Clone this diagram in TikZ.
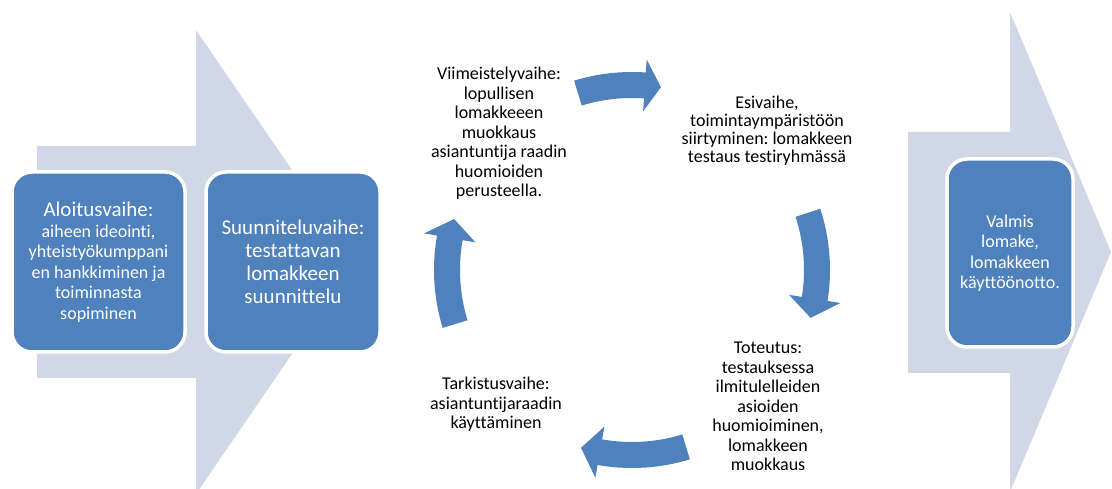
\documentclass[tikz,border=0pt]{standalone}
\usepackage{fontspec}
\setmainfont{Carlito}[Ligatures=NoCommon]
\usetikzlibrary{calc}
\definecolor{boxblue}{HTML}{4F81BD}
\definecolor{pale}{HTML}{D0D8E8}
\definecolor{ink}{HTML}{000000}
\newcommand{\Body}{\fontsize{18}{20.5}\selectfont}
\newcommand{\Title}{\fontsize{21}{23}\selectfont}
\newcommand{\Cyc}{\fontsize{18}{19.5}\selectfont}
\frenchspacing

\begin{document}
\begin{tikzpicture}[x=1pt,y=1pt,
    phase/.style={fill=boxblue, draw=white, line width=3.5pt, rounded corners=20pt,
      text=white, align=center, inner sep=4pt},
    note/.style={text=ink, align=center, font=\Cyc}]
  \useasboundingbox (0,0) rectangle (1112,489);
  \clip (0,0) rectangle (1112,489);
  % pale background arrows
  \fill[pale] (37,343) -- (196,343) -- (196,459) -- (355,227) -- (196,-5) -- (196,111) -- (37,111) -- cycle;
  \fill[pale] (908,357) -- (1010,357) -- (1010,477) -- (1111,237) -- (1010,-3) -- (1010,116) -- (908,116) -- cycle;
  % phases
  \node[phase, minimum width=173pt, minimum height=180pt, font=\Body] (start) at (98.5,227)
    {{\Title Aloitusvaihe:}\\aiheen ideointi,\\yhteistyökumppani\\en hankkiminen ja\\toiminnasta\\sopiminen};
  \node[phase, minimum width=174pt, minimum height=180pt, font=\Title] (design) at (293,227)
    {Suunniteluvaihe:\\testattavan\\lomakkeen\\suunnittelu};
  \node[phase, minimum width=126pt, minimum height=188pt, font=\Body] (ready) at (1010,236)
    {Valmis\\lomake,\\lomakkeen\\käyttöönotto.};
  % cycle texts
  \node[note] (finish) at (499,355.5) {Viimeistelyvaihe:\\lopullisen\\lomakkeeen\\muokkaus\\asiantuntija raadin\\huomioiden\\perusteella.};
  \node[note, font=\fontsize{18}{18}\selectfont] (pretest) at (767,358) {Esivaihe,\\toimintaympäristöön\\siirtyminen: lomakkeen\\testaus testiryhmässä};
  \node[note] (build) at (768,82.5) {Toteutus:\\testauksessa\\ilmitulelleiden\\asioiden\\huomioiminen,\\lomakkeen\\muokkaus};
  \node[note] (review) at (496,84.5) {Tarkistusvaihe:\\asiantuntijaraadin\\käyttäminen};
  % curved cycle arrows: tail / head base / tip (degrees)
  \begin{scope}[shift={(632,219)}]
    \foreach \a/\h/\b in {107/86/81, 18/-9/-15, -73/-100/-106, 197/170/164}{
      \fill[boxblue] (\a:198pt) arc[start angle=\a, end angle=\h, radius=198pt] -- (\h:211pt)
        -- (\b:185pt) -- (\h:159pt) -- (\h:172pt) arc[start angle=\h, end angle=\a, radius=172pt] -- cycle;}
  \end{scope}
\end{tikzpicture}
\end{document}
